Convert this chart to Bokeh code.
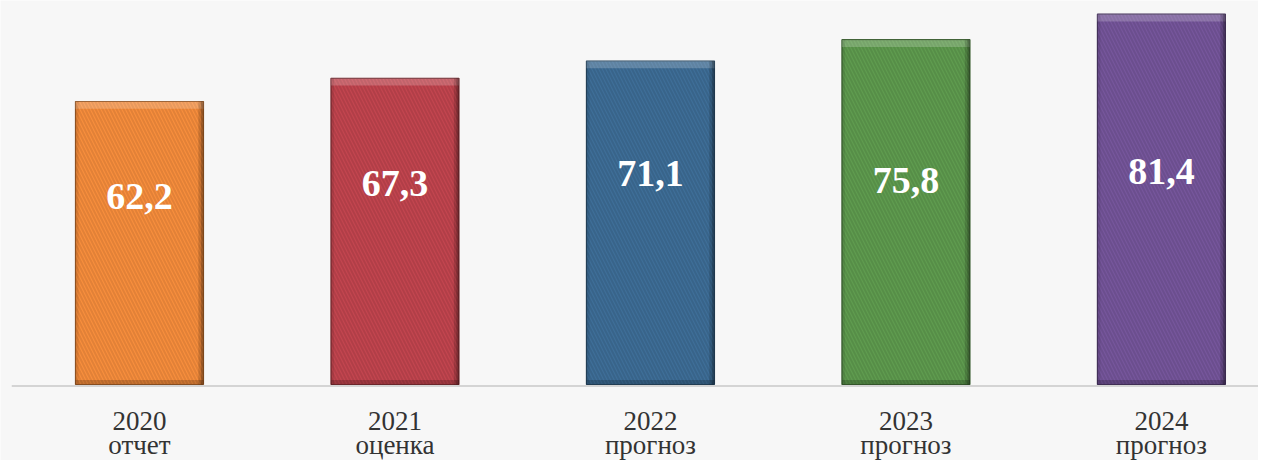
from bokeh.plotting import figure
from bokeh.models import Range1d, ColumnDataSource
from bokeh.core.properties import value
from bokeh.embed import file_html
from bokeh.resources import INLINE

# ---- data ----
years = ["2020", "2021", "2022", "2023", "2024"]
statuses = ["отчет", "оценка", "прогноз", "прогноз", "прогноз"]
values = [62.2, 67.3, 71.1, 75.8, 81.4]
labels = ["62,2", "67,3", "71,1", "75,8", "81,4"]

# ---- style ----
colors = ["#f88e3c", "#c3454f", "#3e6e98", "#5f9c4f", "#76569c"]
label_frac = [0.664, 0.656, 0.652, 0.592, 0.575]
FONT = "Liberation Serif"

def shade(hx, f):
    r, g, b = int(hx[1:3], 16), int(hx[3:5], 16), int(hx[5:7], 16)
    return "#%02x%02x%02x" % (int(r * f), int(g * f), int(b * f))

x = list(range(len(values)))
W = 0.501
bev = 1.6

src = ColumnDataSource(dict(
    x=x, top=values, color=colors,
    edge=[shade(c, 0.6) for c in colors],
    hatch=[shade(c, 0.82) for c in colors],
    bev_bottom=[v - bev for v in values],
    left=[i - W / 2 for i in x], right=[i + W / 2 for i in x],
    rin=[i + W / 2 - 0.02 for i in x], rin2=[i + W / 2 - 0.01 for i in x],
    lin=[i - W / 2 + 0.012 for i in x],
    label=labels, ly=[v * f for v, f in zip(values, label_frac)],
    year=years, status=statuses,
))

p = figure(width=1258, height=460, output_backend="svg", toolbar_location=None,
           x_range=Range1d(-0.544, 4.380), y_range=Range1d(-16.70, 84.40),
           min_border=0, outline_line_color=None)
p.axis.visible = False
p.grid.visible = False
p.background_fill_color = "#f7f7f7"
p.border_fill_color = "#f7f7f7"

# baseline
p.segment(x0=-0.5, x1=4.6, y0=-0.3, y1=-0.3, line_color="#d4d4d4", line_width=2)

# bars
p.vbar(x="x", top="top", bottom=0, width=W, source=src, fill_color="color",
       line_color="edge", line_width=1.2,
       hatch_pattern="left_diagonal_line", hatch_color="hatch", hatch_alpha=0.5,
       hatch_scale=7, hatch_weight=2)
# bevel: top light band, right & left darker edges, bottom dark band
p.quad(left="left", right="right", top="top", bottom="bev_bottom", source=src,
       fill_color="white", fill_alpha=0.2, line_color=None)
p.quad(left="rin", right="right", top="top", bottom=0, source=src,
       fill_color="black", fill_alpha=0.15, line_color=None)
p.quad(left="rin2", right="right", top="top", bottom=0, source=src,
       fill_color="black", fill_alpha=0.2, line_color=None)
p.quad(left="left", right="lin", top="top", bottom=0, source=src,
       fill_color="black", fill_alpha=0.08, line_color=None)
p.quad(left="left", right="right", top=1.0, bottom=0, source=src,
       fill_color="black", fill_alpha=0.18, line_color=None)

# value labels
p.text(x="x", y="ly", text="label", source=src, text_align="center",
       text_baseline="middle", text_color="white", text_font_style="bold",
       text_font=value(FONT), text_font_size="38px")

# category labels
p.text(x="x", y=-8.0, text="year", source=src, text_align="center",
       text_baseline="alphabetic", text_color="#333333",
       text_font=value(FONT), text_font_size="27px")
p.text(x="x", y=-13.4, text="status", source=src, text_align="center",
       text_baseline="alphabetic", text_color="#333333",
       text_font=value(FONT), text_font_size="27px")

open("out.html", "w").write(file_html(p, INLINE))
